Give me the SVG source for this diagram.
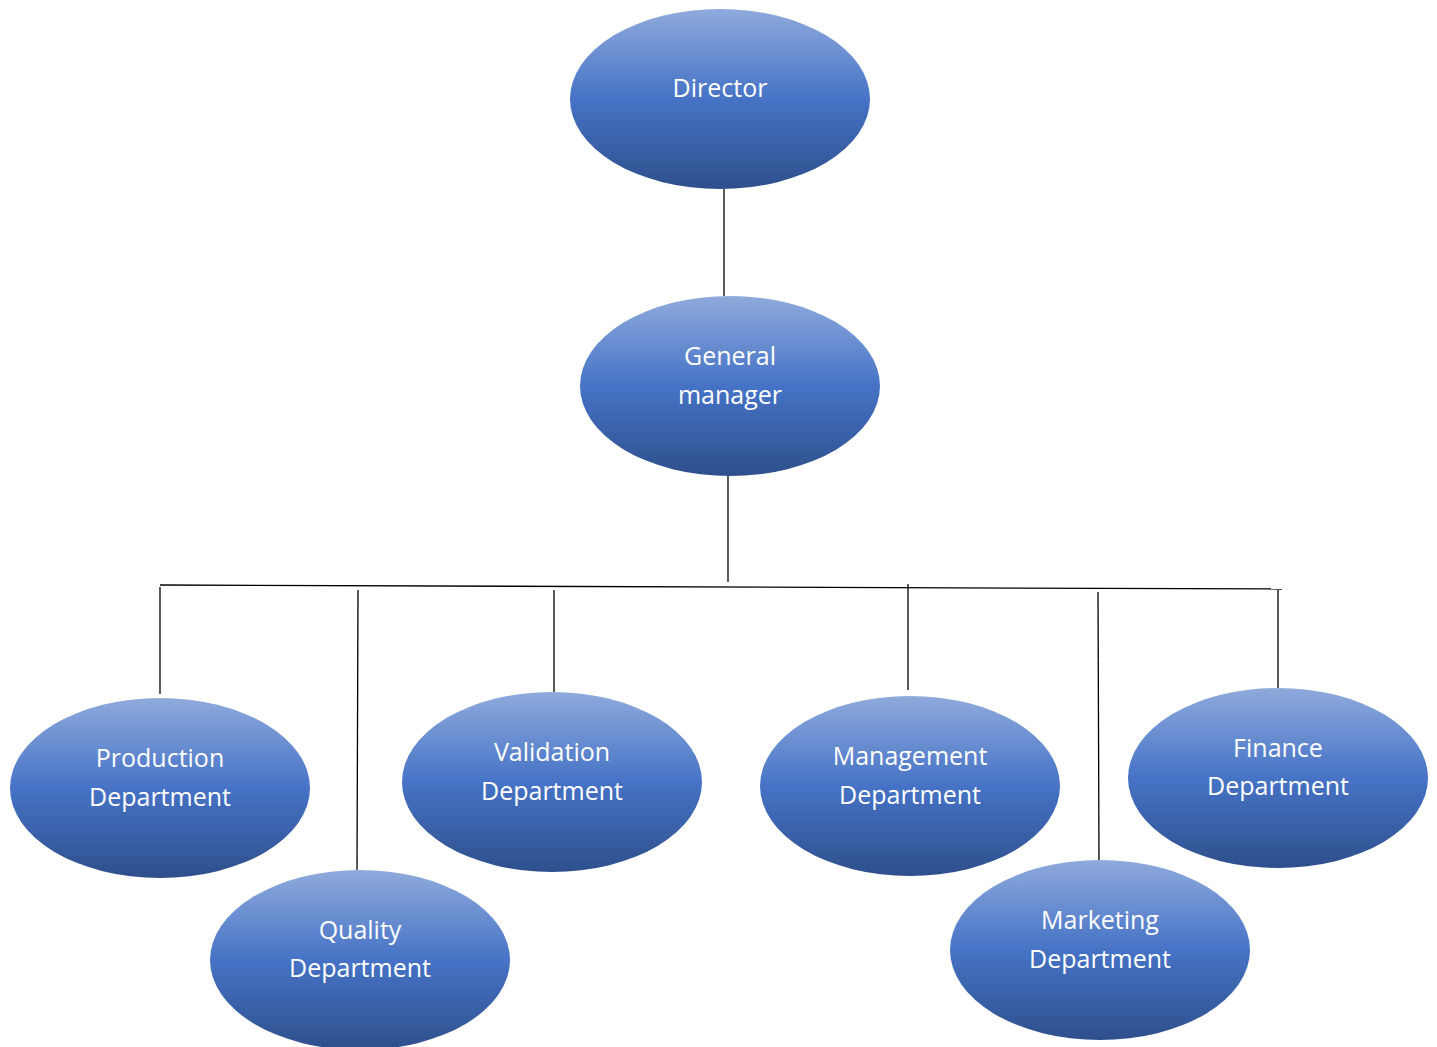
<svg xmlns="http://www.w3.org/2000/svg" width="1437" height="1047" viewBox="0 0 1437 1047">
<defs>
<linearGradient id="g" x1="0" y1="0" x2="0" y2="1">
<stop offset="0" stop-color="#8faadc"/>
<stop offset="0.5" stop-color="#4673c6"/>
<stop offset="1" stop-color="#2e4f8c"/>
</linearGradient>
</defs>
<style>
.n{fill:url(#g);}
.t{font-family:"Open Sans","DejaVu Sans",sans-serif;font-size:25px;fill:#fff;text-anchor:middle;}
.c line{stroke:#000;stroke-width:1.3;}
</style>
<rect width="1437" height="1047" fill="#fff"/>
<g class="c" id="connectors">
<line x1="724" y1="189" x2="724" y2="296"/>
<line x1="728" y1="476" x2="728" y2="582"/>
<line x1="160" y1="585" x2="1282" y2="589"/>
<line x1="160" y1="587" x2="160" y2="694"/>
<line x1="358" y1="590" x2="357" y2="870"/>
<line x1="554" y1="590" x2="554" y2="692"/>
<line x1="908" y1="584" x2="908" y2="690"/>
<line x1="1098" y1="592" x2="1099" y2="860"/>
<line x1="1278" y1="590" x2="1278" y2="688"/>
</g>
<g id="director"><ellipse class="n" cx="720" cy="99" rx="150" ry="90"/><text class="t" x="720" y="97">Director</text></g>
<g id="gm"><ellipse class="n" cx="730" cy="386" rx="150" ry="90"/><text class="t" x="730" y="365">General</text><text class="t" x="730" y="404">manager</text></g>
<g id="production"><ellipse class="n" cx="160" cy="788" rx="150" ry="90"/><text class="t" x="160" y="767">Production</text><text class="t" x="160" y="806">Department</text></g>
<g id="quality"><ellipse class="n" cx="360" cy="960" rx="150" ry="90"/><text class="t" x="360" y="939">Quality</text><text class="t" x="360" y="977">Department</text></g>
<g id="validation"><ellipse class="n" cx="552" cy="782" rx="150" ry="90"/><text class="t" x="552" y="761">Validation</text><text class="t" x="552" y="800">Department</text></g>
<g id="management"><ellipse class="n" cx="910" cy="786" rx="150" ry="90"/><text class="t" x="910" y="765">Management</text><text class="t" x="910" y="804">Department</text></g>
<g id="finance"><ellipse class="n" cx="1278" cy="778" rx="150" ry="90"/><text class="t" x="1278" y="757">Finance</text><text class="t" x="1278" y="795">Department</text></g>
<g id="marketing"><ellipse class="n" cx="1100" cy="950" rx="150" ry="90"/><text class="t" x="1100" y="929">Marketing</text><text class="t" x="1100" y="968">Department</text></g>
</svg>
